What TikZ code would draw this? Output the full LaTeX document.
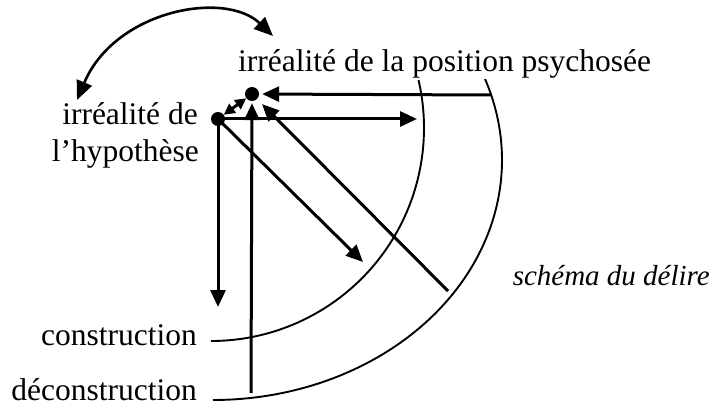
\documentclass[tikz,border=0pt]{standalone}
\usepackage{fontspec}
\setmainfont{Liberation Serif}
\usetikzlibrary{arrows.meta}
\begin{document}
\begin{tikzpicture}[x=1pt,y=-1pt,
  arr/.style={line width=3pt,-{Triangle[length=17pt,width=15pt]}},
  dbl/.style={line width=3pt,{Triangle[length=11pt,width=11pt]}-{Triangle[length=11pt,width=11pt]}},
  curvearr/.style={line width=2.6pt,{Triangle[length=19pt,width=16pt]}-{Triangle[length=19pt,width=16pt]}},
  arcline/.style={line width=1.9pt},
  dot/.style={circle,fill,inner sep=0pt,minimum size=14pt},
  lbl/.style={inner sep=0pt,font=\fontsize{31.5}{37}\selectfont},
  ilbl/.style={inner sep=0pt,font=\fontsize{29}{35}\selectfont\itshape}]
\useasboundingbox (0,0) rectangle (712,406);
% texts
\node[lbl,anchor=base west] (tpos) at (238,72) {irréalité de la position psychosée};
\node[lbl,anchor=base east] (thyp1) at (198,125) {irréalité de};
\node[lbl,anchor=base east] (thyp2) at (199,162) {l’hypothèse};
\node[lbl,anchor=base east] (tcons) at (197,345) {construction};
\node[lbl,anchor=base east] (tdec) at (197,400) {déconstruction};
\node[ilbl,anchor=base east] (tsch) at (710,285) {schéma du délire};
% arcs
\coordinate (innerL) at (211,341);
\coordinate (outerL) at (213,400);
\draw[arcline] (innerL) arc[start angle=90, end angle=-13, radius=213];
\draw[arcline] (outerL) arc[start angle=90, end angle=-19.7, x radius=289, y radius=240];
% dots
\node[dot] (A) at (218,119) {};
\node[dot] (B) at (252,94) {};
% free ends
\coordinate (hA) at (417,119);
\coordinate (vA) at (218,307);
\coordinate (dA) at (363,262);
\coordinate (hB) at (491,95);
\coordinate (vB) at (251,393);
\coordinate (dB) at (448,291);
\coordinate (cL) at (77,100);
\coordinate (cR) at (273,36);
% arrows from A
\draw[arr] (A.center) -- (hA);
\draw[arr] (A.center) -- (vA);
\draw[arr] (A.center) -- (dA);
% arrows to B
\draw[arr,shorten >=3pt] (hB) -- (B);
\draw[arr,shorten >=2pt] (vB) -- (B);
\draw[arr,shorten >=7pt] (dB) -- (B);
% small double arrow
\draw[dbl,shorten <=0pt,shorten >=0pt] (A) -- (B);
% curved arrow
\draw[curvearr] (cL) .. controls (115,10) and (225,-10) .. (cR);
\end{tikzpicture}
\end{document}
